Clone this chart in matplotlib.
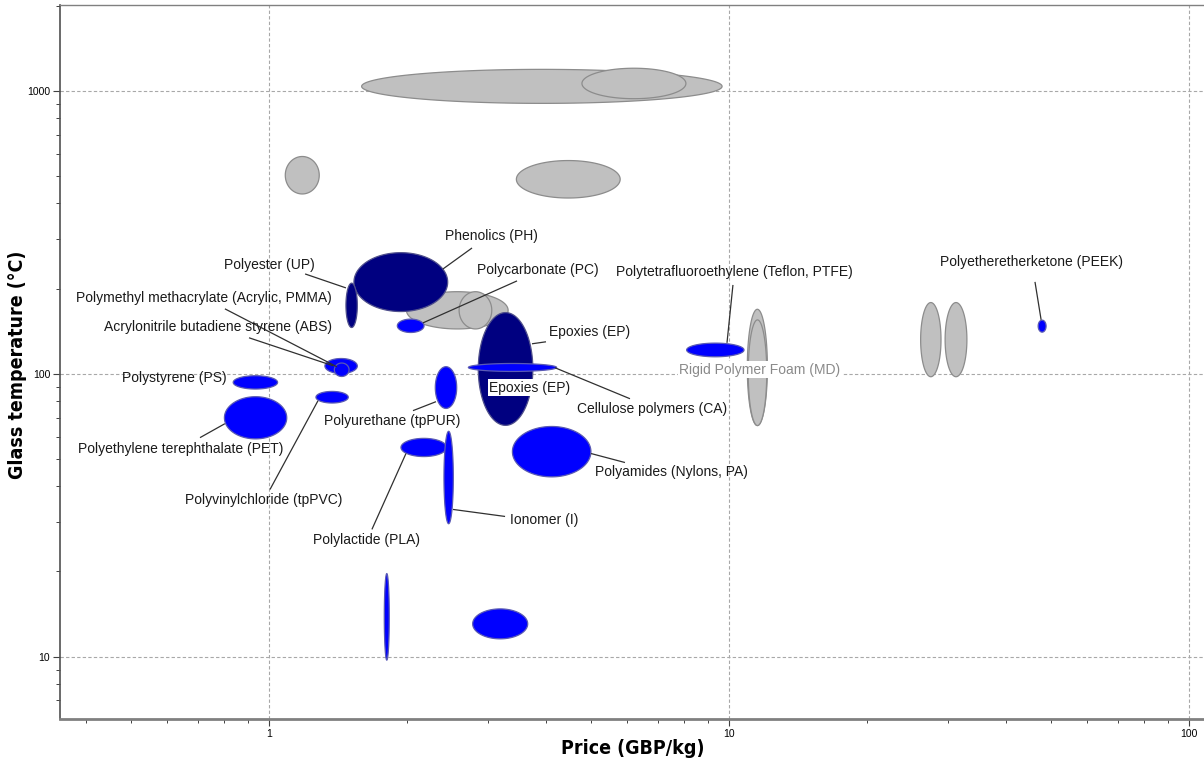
import numpy as np
import matplotlib
matplotlib.use("Agg")
import matplotlib.pyplot as plt
from matplotlib import ticker

# ---------------------------------------------------------------
# Material property bubbles: price range (GBP/kg) and glass
# temperature range (degC).  Each bubble is an ellipse in log space.
# ---------------------------------------------------------------
bubble_names = [
    "Ceramic A", "Ceramic B", "Glass A", "Glass B",
    "Foam A", "Foam B", "Rigid foam outer", "Rigid foam inner",
    "Foam C", "Foam D",
    "Phenolics (PH)", "Epoxies (EP)", "Polyester (UP)",
    "Polycarbonate (PC)", "Acrylonitrile butadiene styrene (ABS)",
    "Polymethyl methacrylate (Acrylic, PMMA)", "Polystyrene (PS)",
    "Polyvinylchloride (tpPVC)", "Polyethylene terephthalate (PET)",
    "Polyurethane (tpPUR)", "Cellulose polymers (CA)",
    "Polylactide (PLA)", "Ionomer (I)", "Polyamides (Nylons, PA)",
    "Elastomer A", "Elastomer B",
    "Polytetrafluoroethylene (Teflon, PTFE)",
    "Polyetheretherketone (PEEK)",
]
price_lo = [1.59, 4.79, 1.085, 3.45, 1.99, 2.59, 10.96, 11.01, 26.1, 29.5,
            1.53, 2.851, 1.47,
            1.901, 1.323, 1.387, 0.836, 1.265, 0.800, 2.299, 2.713,
            1.936, 2.401, 3.382, 1.781, 2.772, 8.09, 47.0]
price_hi = [9.66, 8.06, 1.286, 5.80, 3.31, 3.05, 12.12, 12.08, 28.9, 32.9,
            2.446, 3.746, 1.556,
            2.173, 1.556, 1.493, 1.044, 1.487, 1.093, 2.559, 4.22,
            2.434, 2.516, 5.01, 1.826, 3.651, 10.78, 48.9]
tg_lo = [903, 938, 432, 418, 144, 144, 65.6, 65.6, 97.6, 97.6,
         165.9, 65.7, 145.7,
         139.9, 100.2, 97.8, 88.3, 78.8, 58.85, 75.4, 101.9,
         50.96, 29.5, 43.2, 9.72, 11.56, 114.8, 140.3]
tg_hi = [1191, 1202, 586, 567, 195, 195, 169, 155, 178.5, 178.5,
         267.9, 164.5, 209,
         156, 113.2, 109.1, 98.4, 86.6, 82.96, 105.9, 108.7,
         59.1, 62.6, 65.1, 19.66, 14.75, 128.3, 154.7]
bubble_class = (["other"] * 10 + ["thermoset"] * 3 + ["thermoplastic"] * 15)

class_face = {"other": "#c0c0c0", "thermoset": "#000080", "thermoplastic": "#0000ff"}
class_edge = {"other": "#8c8c8c", "thermoset": "#50508c", "thermoplastic": "#5a5ab4"}

# Callout labels: text, text position (price, Tg), leader line ends
label_text = [
    "Phenolics (PH)", "Polyester (UP)", "Polycarbonate (PC)",
    "Polymethyl methacrylate (Acrylic, PMMA)",
    "Acrylonitrile butadiene styrene (ABS)", "Polystyrene (PS)",
    "Polyethylene terephthalate (PET)", "Polyvinylchloride (tpPVC)",
    "Polyurethane (tpPUR)", "Epoxies (EP)", "Cellulose polymers (CA)",
    "Polyamides (Nylons, PA)", "Ionomer (I)", "Polylactide (PLA)",
    "Polytetrafluoroethylene (Teflon, PTFE)", "Polyetheretherketone (PEEK)",
]
label_x = [3.05, 1.0, 3.845, 0.7225, 0.7747, 0.6216, 0.6437, 0.9753,
           1.851, 4.986, 6.80, 7.48, 3.961, 1.633, 10.25, 45.57]
label_y = [306.8, 242.4, 232.7, 185.4, 146.5, 96.8, 54.4, 35.65,
           68.3, 140.6, 75.3, 45.1, 30.3, 25.76, 229.0, 248.4]
leader_x0 = [2.389, 1.198, 2.162, 0.802, 0.9049, None, 0.708, 1.005,
             2.056, 3.73, 4.185, 5.012, 2.512, 1.985, 9.90, 47.7]
leader_y0 = [234.6, 225.3, 151.3, 169.6, 134.0, None, 59.45, 38.98,
             74.05, 127.6, 105.0, 52.24, 33.14, 52.24, 128.6, 155.1]
leader_x1 = [2.763, 1.470, 3.461, 1.405, 1.378, None, 0.802, 1.278,
             2.307, 4.001, 6.092, 5.941, 3.26, 1.674, 10.20, 46.26]
leader_y1 = [278.3, 201.1, 212.9, 105.8, 106.7, None, 66.6, 80.3,
             79.67, 129.7, 81.6, 48.55, 31.3, 28.17, 206.0, 211.2]

# Boxed labels drawn over the bubbles
boxed_text = ["Epoxies (EP)", "Rigid Polymer Foam (MD)"]
boxed_x = [3.693, 11.68]
boxed_y = [89.2, 103.3]
boxed_color = ["#1a1a1a", "#8a8a8a"]

x_limits = (0.3513, 107.8)
y_limits = (6.02, 2011)
x_major = [1, 10, 100]
y_major = [10, 100, 1000]

label_font = ["Liberation Sans", "DejaVu Sans"]
title_font = "DejaVu Sans"

fig = plt.figure(figsize=(12.04, 7.65), dpi=100)
ax = fig.add_axes([60 / 1204, 1 - 719 / 765, 1 - 60 / 1204, (719 - 5) / 765])
ax.set_xscale("log")
ax.set_yscale("log")
ax.set_xlim(*x_limits)
ax.set_ylim(*y_limits)

# Bubbles: draw grey first, then thermosets, then thermoplastics
t = np.linspace(0, 2 * np.pi, 240)
order = ["other", "thermoset", "thermoplastic"]
draw_seq = sorted(range(len(bubble_names)), key=lambda i: order.index(bubble_class[i]))
for i in draw_seq:
    lx0, lx1 = np.log10(price_lo[i]), np.log10(price_hi[i])
    ly0, ly1 = np.log10(tg_lo[i]), np.log10(tg_hi[i])
    cx, rx = (lx0 + lx1) / 2, (lx1 - lx0) / 2
    cy, ry = (ly0 + ly1) / 2, (ly1 - ly0) / 2
    xs = 10 ** (cx + rx * np.cos(t))
    ys = 10 ** (cy + ry * np.sin(t))
    c = bubble_class[i]
    ax.fill(xs, ys, facecolor=class_face[c], edgecolor=class_edge[c],
            linewidth=0.9, zorder=3)

# Leader lines and labels
for i, txt in enumerate(label_text):
    if leader_x0[i] is not None:
        ax.plot([leader_x0[i], leader_x1[i]], [leader_y0[i], leader_y1[i]],
                color="#303030", lw=0.9, zorder=4, solid_capstyle="butt")
    ax.text(label_x[i], label_y[i], txt, ha="center", va="center",
            fontsize=10, color="#1a1a1a", family=label_font, zorder=5)

for txt, bx, by, bc in zip(boxed_text, boxed_x, boxed_y, boxed_color):
    ax.text(bx, by, txt, ha="center", va="center", fontsize=10, color=bc,
            family=label_font, zorder=6,
            bbox=dict(boxstyle="square,pad=0.12", facecolor="white",
                      edgecolor="none"))

# Grid and axes styling
ax.xaxis.set_major_locator(ticker.FixedLocator(x_major))
ax.yaxis.set_major_locator(ticker.FixedLocator(y_major))
ax.xaxis.set_minor_locator(ticker.LogLocator(base=10, subs=np.arange(2, 10)))
ax.yaxis.set_minor_locator(ticker.LogLocator(base=10, subs=np.arange(2, 10)))
fmt = ticker.FuncFormatter(lambda v, _: f"{v:g}")
ax.xaxis.set_major_formatter(fmt)
ax.yaxis.set_major_formatter(fmt)
ax.xaxis.set_minor_formatter(ticker.NullFormatter())
ax.yaxis.set_minor_formatter(ticker.NullFormatter())

ax.grid(True, which="major", color="#a8a8a8", linestyle=(0, (3, 2)), lw=0.8, zorder=1)
ax.set_axisbelow(True)

ax.tick_params(which="major", direction="out", length=5, width=0.8,
               color="#404040", labelsize=7.5, pad=2)
ax.tick_params(which="minor", direction="out", length=3, width=0.7, color="#404040")
for lab in ax.get_xticklabels() + ax.get_yticklabels():
    lab.set_family(label_font)

ax.spines["left"].set_color("#505050")
ax.spines["left"].set_linewidth(1.2)
ax.spines["bottom"].set_color("#808080")
ax.spines["bottom"].set_linewidth(2.0)
ax.spines["top"].set_color("#808080")
ax.spines["top"].set_linewidth(1.0)
ax.spines["right"].set_visible(False)

# Axis titles placed in figure pixels so they sit in the margins
fig.text(633 / 1204, 1 - 748 / 765, "Price (GBP/kg)", ha="center", va="center",
         fontsize=14, fontweight="bold", family=title_font,
         fontstretch="condensed")
fig.text(18 / 1204, 1 - 365 / 765, "Glass temperature (\u00b0C)", ha="center",
         va="center", rotation=90, fontsize=14, fontweight="bold",
         family=title_font, fontstretch="condensed")

fig.savefig("out.png", dpi=100, facecolor="white")
